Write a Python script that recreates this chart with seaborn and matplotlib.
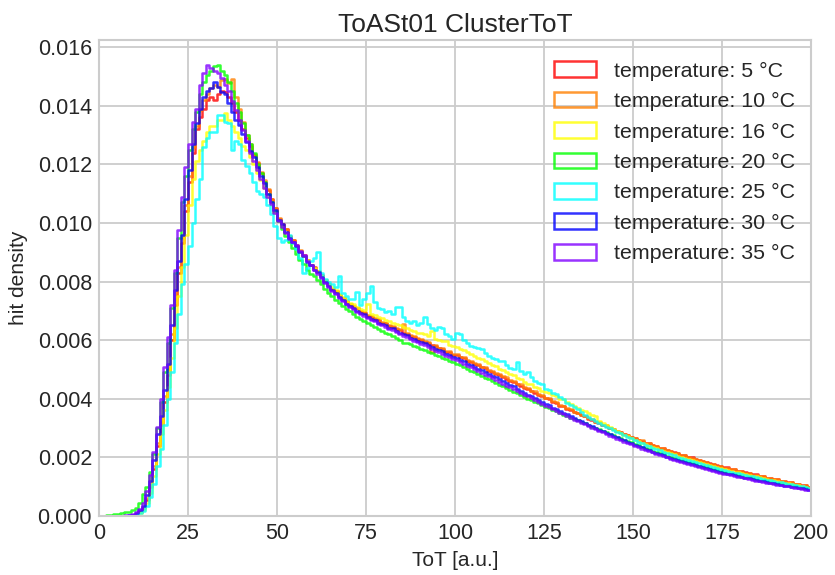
import numpy as np
import pandas as pd
import matplotlib
matplotlib.use("Agg")
import matplotlib.pyplot as plt
from matplotlib.patches import Patch
import seaborn as sns

# ToT histogram: 200 bins of width 1 between 0 and 200.
# Bin contents are hit densities, stored in units of 1e-5.
tot_edges = np.arange(0, 201)

temperatures = ["5", "10", "16", "20", "25", "30", "35"]
colors = ["#ff0000", "#ff8000", "#ffff00", "#00ff00", "#00ffff", "#0000ff", "#8000ff"]

density_5C = [
    0, 0, 0, 0, 0, 0, 0, 0, 1, 3,
    6, 14, 28, 55, 100, 160, 240, 310, 390, 480,
    600, 720, 830, 930, 1040, 1140, 1240, 1320, 1360, 1390,
    1420, 1430, 1420, 1440, 1450, 1445, 1430, 1410, 1380, 1350,
    1320, 1290, 1262, 1230, 1205, 1170, 1140, 1112, 1080, 1050,
    1015, 995, 978, 955, 940, 925, 905, 892, 872, 858,
    848, 835, 822, 805, 792, 776, 768, 754, 745, 732,
    724, 715, 708, 698, 694, 684, 680, 673, 668, 660,
    657, 648, 646, 637, 633, 626, 622, 614, 611, 603,
    600, 594, 589, 583, 579, 572, 570, 561, 559, 551,
    549, 541, 538, 530, 527, 519, 515, 508, 504, 496,
    493, 486, 481, 474, 469, 461, 458, 449, 445, 437,
    433, 426, 421, 414, 409, 401, 398, 390, 386, 377,
    374, 366, 362, 354, 351, 343, 340, 332, 328, 321,
    318, 310, 307, 299, 296, 289, 286, 279, 276, 269,
    266, 259, 257, 250, 248, 241, 239, 233, 231, 225,
    223, 217, 215, 209, 207, 201, 200, 194, 192, 187,
    185, 180, 179, 173, 172, 167, 166, 161, 160, 155,
    154, 149, 148, 143, 142, 137, 136, 131, 130, 126,
    125, 120, 120, 115, 115, 110, 110, 105, 105, 100,
]

density_10C = [
    0, 0, 0, 0, 0, 0, 0, 0, 1, 3,
    7, 15, 30, 60, 105, 170, 250, 320, 410, 500,
    620, 740, 850, 950, 1060, 1160, 1260, 1330, 1385, 1420,
    1440, 1460, 1470, 1465, 1487, 1490, 1478, 1492, 1430, 1390,
    1345, 1300, 1268, 1235, 1208, 1175, 1148, 1115, 1083, 1050,
    1018, 993, 978, 955, 941, 920, 908, 888, 875, 857,
    846, 833, 821, 803, 793, 775, 768, 752, 743, 730,
    723, 713, 708, 698, 695, 686, 683, 674, 671, 662,
    660, 651, 649, 640, 637, 655, 625, 617, 614, 606,
    603, 596, 593, 560, 583, 574, 573, 564, 562, 554,
    552, 544, 541, 533, 530, 521, 519, 510, 508, 499,
    496, 488, 485, 476, 473, 464, 461, 452, 449, 440,
    437, 428, 425, 416, 413, 404, 401, 392, 389, 380,
    377, 368, 365, 356, 353, 345, 342, 334, 331, 322,
    320, 311, 309, 300, 298, 290, 288, 280, 278, 270,
    267, 260, 258, 250, 249, 241, 240, 232, 231, 224,
    223, 216, 215, 208, 207, 200, 199, 193, 192, 186,
    185, 179, 178, 172, 172, 165, 165, 159, 159, 153,
    153, 147, 147, 141, 141, 136, 136, 130, 130, 125,
    125, 119, 120, 114, 115, 109, 110, 104, 105, 99,
]

density_16C = [
    0, 0, 0, 0, 0, 0, 0, 0, 1, 2,
    5, 11, 22, 45, 80, 135, 210, 280, 360, 440,
    540, 640, 750, 850, 960, 1060, 1150, 1210, 1250, 1280,
    1310, 1330, 1332, 1350, 1352, 1375, 1350, 1330, 1310, 1290,
    1262, 1250, 1225, 1200, 1170, 1145, 1118, 1090, 1062, 1035,
    1005, 985, 965, 950, 932, 915, 900, 888, 872, 858,
    845, 835, 820, 806, 792, 780, 770, 758, 748, 738,
    728, 722, 714, 707, 702, 722, 690, 686, 680, 675,
    670, 664, 660, 654, 650, 645, 640, 634, 630, 624,
    625, 620, 615, 630, 605, 600, 596, 598, 585, 580,
    578, 570, 566, 558, 553, 546, 540, 537, 528, 522,
    516, 512, 503, 498, 490, 485, 480, 472, 467, 458,
    452, 450, 440, 436, 428, 424, 420, 412, 408, 400,
    398, 388, 382, 375, 368, 362, 357, 350, 346, 340,
    325, 318, 310, 303, 297, 290, 284, 278, 272, 266,
    260, 255, 250, 245, 240, 236, 231, 226, 222, 218,
    214, 210, 206, 202, 198, 194, 190, 187, 183, 180,
    176, 173, 170, 166, 163, 160, 157, 154, 151, 149,
    146, 143, 140, 137, 135, 132, 129, 127, 124, 122,
    119, 117, 114, 112, 109, 107, 105, 102, 100, 97,
]

density_20C = [
    0, 0, 3, 5, 6, 8, 10, 12, 15, 20,
    28, 45, 75, 100, 150, 210, 300, 390, 490, 590,
    710, 830, 950, 1070, 1160, 1250, 1320, 1380, 1440, 1480,
    1505, 1520, 1535, 1540, 1520, 1505, 1480, 1450, 1410, 1380,
    1340, 1300, 1270, 1240, 1200, 1170, 1140, 1100, 1070, 1040,
    1005, 980, 955, 935, 915, 895, 875, 860, 840, 825,
    820, 805, 790, 775, 762, 750, 738, 728, 715, 705,
    698, 688, 680, 672, 665, 658, 650, 645, 638, 632,
    626, 622, 614, 608, 602, 590, 590, 586, 580, 576,
    570, 566, 560, 555, 550, 545, 540, 534, 530, 524,
    520, 515, 508, 502, 496, 490, 484, 478, 472, 466,
    460, 455, 448, 442, 436, 430, 424, 418, 413, 407,
    400, 395, 389, 384, 378, 373, 368, 362, 357, 351,
    346, 342, 336, 331, 326, 321, 316, 310, 305, 300,
    296, 291, 286, 281, 276, 271, 266, 261, 256, 251,
    246, 242, 237, 232, 228, 223, 219, 214, 210, 206,
    202, 198, 194, 191, 187, 183, 180, 176, 172, 169,
    166, 163, 160, 157, 154, 151, 148, 145, 142, 140,
    137, 134, 132, 129, 126, 124, 122, 119, 116, 114,
    112, 110, 107, 105, 103, 101, 99, 96, 94, 92,
]

density_25C = [
    0, 0, 0, 0, 0, 0, 0, 0, 1, 2,
    4, 9, 18, 35, 65, 110, 170, 230, 310, 400,
    490, 590, 690, 790, 860, 920, 1000, 1080, 1150, 1260,
    1290, 1311, 1310, 1368, 1368, 1345, 1340, 1250, 1280, 1270,
    1215, 1195, 1170, 1140, 1110, 1100, 1090, 1060, 1030, 990,
    950, 935, 940, 960, 930, 910, 880, 830, 845, 870,
    880, 900, 830, 810, 800, 790, 780, 820, 760, 750,
    740, 740, 765, 720, 740, 760, 785, 730, 710, 705,
    695, 700, 690, 714, 714, 680, 665, 660, 665, 650,
    660, 680, 655, 640, 635, 645, 640, 620, 615, 605,
    625, 620, 600, 590, 580, 575, 572, 570, 555, 545,
    540, 535, 530, 530, 515, 505, 500, 526, 495, 485,
    490, 475, 460, 453, 450, 435, 430, 420, 415, 405,
    400, 385, 380, 372, 365, 355, 345, 338, 330, 325,
    318, 312, 305, 300, 294, 288, 282, 276, 270, 265,
    258, 252, 248, 243, 238, 233, 229, 224, 220, 215,
    211, 207, 203, 199, 195, 191, 188, 184, 180, 177,
    173, 170, 167, 164, 160, 157, 154, 151, 148, 146,
    143, 140, 137, 135, 132, 129, 127, 124, 122, 119,
    117, 115, 112, 110, 108, 105, 103, 101, 99, 96,
]

density_30C = [
    0, 0, 0, 0, 0, 0, 0, 0, 2, 5,
    10, 20, 35, 70, 120, 190, 280, 340, 430, 520,
    650, 770, 870, 960, 1080, 1180, 1270, 1340, 1390, 1430,
    1450, 1460, 1480, 1465, 1445, 1440, 1410, 1380, 1350, 1335,
    1305, 1275, 1245, 1225, 1190, 1160, 1135, 1100, 1070, 1045,
    1010, 995, 970, 950, 935, 920, 900, 888, 868, 855,
    840, 832, 815, 800, 785, 770, 762, 748, 738, 725,
    715, 710, 700, 692, 688, 680, 672, 670, 660, 655,
    650, 642, 640, 632, 625, 620, 616, 608, 603, 598,
    593, 590, 582, 578, 570, 565, 562, 553, 550, 543,
    540, 533, 528, 520, 515, 508, 502, 497, 490, 484,
    478, 474, 466, 460, 453, 447, 442, 433, 428, 420,
    414, 410, 402, 396, 388, 382, 378, 370, 364, 357,
    352, 347, 340, 334, 329, 323, 318, 312, 306, 300,
    295, 290, 284, 279, 273, 268, 264, 258, 252, 248,
    243, 239, 234, 229, 225, 220, 216, 211, 207, 203,
    199, 196, 191, 188, 184, 180, 177, 173, 169, 166,
    163, 160, 157, 153, 151, 148, 145, 142, 139, 137,
    134, 131, 129, 126, 123, 121, 119, 116, 113, 111,
    109, 107, 104, 102, 100, 98, 96, 94, 91, 89,
]

density_35C = [
    0, 0, 0, 0, 0, 0, 0, 2, 4, 8,
    14, 25, 45, 85, 140, 220, 305, 400, 510, 610,
    720, 840, 975, 1090, 1190, 1270, 1345, 1390, 1470, 1510,
    1540, 1530, 1520, 1510, 1495, 1470, 1450, 1415, 1385, 1350,
    1318, 1280, 1240, 1210, 1180, 1150, 1120, 1090, 1065, 1035,
    1005, 985, 965, 945, 935, 925, 905, 890, 870, 855,
    838, 826, 812, 796, 782, 768, 758, 745, 735, 722,
    712, 705, 696, 690, 683, 676, 668, 664, 656, 650,
    645, 638, 634, 627, 620, 615, 610, 603, 597, 592,
    586, 582, 575, 570, 563, 558, 553, 546, 542, 536,
    532, 525, 520, 512, 507, 500, 494, 488, 482, 476,
    470, 465, 458, 452, 445, 440, 434, 426, 421, 414,
    408, 403, 396, 390, 383, 377, 372, 365, 359, 352,
    347, 341, 335, 329, 324, 318, 313, 307, 301, 296,
    290, 285, 279, 274, 269, 264, 259, 254, 249, 244,
    239, 235, 230, 226, 221, 217, 212, 208, 204, 200,
    196, 192, 188, 184, 181, 177, 174, 170, 167, 163,
    160, 157, 154, 151, 148, 145, 142, 140, 137, 134,
    132, 129, 127, 124, 121, 119, 117, 114, 112, 110,
    107, 105, 103, 101, 99, 97, 95, 92, 90, 88,
]

series = [density_5C, density_10C, density_16C, density_20C,
          density_25C, density_30C, density_35C]

sns.set_theme(style="whitegrid")
plt.rcParams["font.family"] = ["Liberation Sans", "DejaVu Sans"]
plt.rcParams["axes.edgecolor"] = "#cccccc"
plt.rcParams["axes.linewidth"] = 1.5
plt.rcParams["grid.color"] = "#cccccc"
plt.rcParams["grid.linewidth"] = 1.3

fig = plt.figure(figsize=(8.35, 5.75), dpi=100)
ax = fig.add_axes([0.1186, 0.1026, 0.8527, 0.8278])

bin_centers = (tot_edges[:-1] + tot_edges[1:]) / 2
frames = []
for temp, vals in zip(temperatures, series):
    frames.append(pd.DataFrame({
        "tot": bin_centers,
        "density": np.asarray(vals, dtype=float) * 1e-5,
        "label": f"temperature: {temp} °C",
    }))
data = pd.concat(frames, ignore_index=True)

handles = []
for temp, color in zip(temperatures, colors):
    label = f"temperature: {temp} °C"
    sub = data[data["label"] == label]
    sns.histplot(data=sub, x="tot", weights="density",
                 binwidth=1, binrange=(tot_edges[0], tot_edges[-1]),
                 element="step", fill=False, color=color, alpha=0.8,
                 linewidth=1.8, ax=ax)
    handles.append(Patch(facecolor="none", edgecolor=color, alpha=0.8,
                         linewidth=1.8, label=label))

ax.set_xlim(0, 200)
ax.set_ylim(0, 0.01624)
ax.set_xticks([0, 25, 50, 75, 100, 125, 150, 175, 200])
ax.set_yticks(np.arange(0, 0.0161, 0.002))
ax.yaxis.set_major_formatter(matplotlib.ticker.FormatStrFormatter("%.3f"))
ax.tick_params(labelsize=15.5, colors="#262626", length=0, pad=5)
ax.set_xlabel("ToT [a.u.]", fontsize=15, color="#262626", labelpad=5)
ax.set_ylabel("hit density", fontsize=15, color="#262626", labelpad=7)
ax.set_title("ToASt01 ClusterToT", fontsize=19, color="#262626", pad=6)

ax.legend(handles=handles, loc="upper right", bbox_to_anchor=(1.008, 1.0),
          frameon=False, fontsize=15.4,
          handlelength=1.95, handleheight=0.75, labelspacing=0.52,
          handletextpad=0.85, borderaxespad=0.6)

fig.savefig("out.png", dpi=100)
